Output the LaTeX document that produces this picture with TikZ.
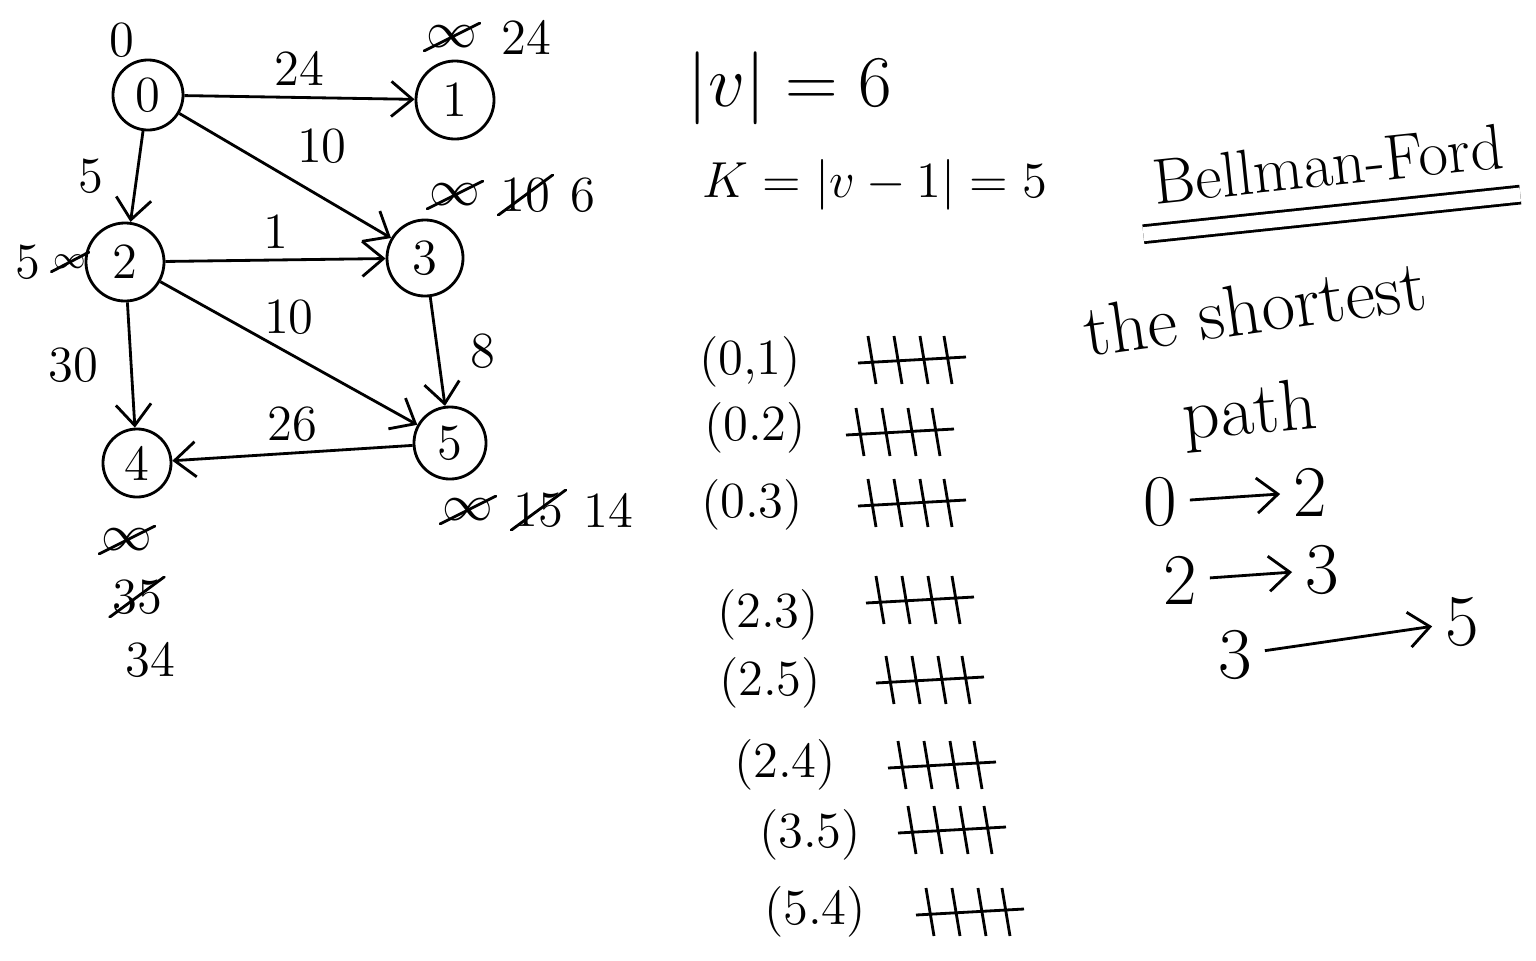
\documentclass[tikz,border=0pt]{standalone}
\usepackage{amsmath,amssymb}
\usepackage{tikz}
\usetikzlibrary{arrows.meta, positioning}

\begin{document}
\begin{tikzpicture}[
    x=0.01cm, y=-0.01cm, thick,
    vert/.style={
        circle, draw, minimum size=#1, inner sep=0pt, font=\Large
    },
    wlabel/.style={font=\Large, inner sep=3pt},
    dist/.style={font=\Large, inner sep=1pt},
    struck/.style={
        dist,
        path picture={\draw[thick] (path picture bounding box.south west) -- (path picture bounding box.north east);}
    },
    arr/.style={-{Straight Barb[length=6pt, width=10pt]}, thick},
    edgename/.style={font=\Large},
    tally/.pic={
        \draw (-42,-24) -- (-34,24);
        \draw (-16,-24) -- (-8,24);
        \draw (10,-24) -- (18,24);
        \draw (34,-24) -- (42,24);
        \draw (-52,3) -- (56,-3);
    }
]
\useasboundingbox (0,0) rectangle (1536,960);

% Vertices
\node[vert=0.70cm] (v0) at (148,95) {0};
\node[vert=0.78cm] (v1) at (455,100) {1};
\node[vert=0.78cm] (v2) at (125,262) {2};
\node[vert=0.76cm] (v3) at (425,258) {3};
\node[vert=0.68cm] (v4) at (137,463) {4};
\node[vert=0.72cm] (v5) at (450,443) {5};

% Weighted edges
\draw[arr] (v0) -- node[wlabel, above] {24} (v1);
\draw[arr] (v0) -- node[wlabel, left=6pt] {5} (v2);
\draw[arr] (v0) -- node[wlabel, above right] {10} (v3);
\draw[arr] (v2) -- node[wlabel, above] {1} (v3);
\draw[arr] (v2) -- node[wlabel, left=6pt] {30} (v4);
\draw[arr] (v2) -- node[wlabel, above=2pt] {10} (v5);
\draw[arr] (v3) -- node[wlabel, right=6pt] {8} (v5);
\draw[arr] (v5) -- node[wlabel, above] {26} (v4);

% Distance estimates
\node[dist, above=2pt of v0.north west] (d0) {0};
\node[struck] (d1a) at (452,37) {$\infty$};
\node[dist, right=4pt of d1a] (d1b) {24};
\node[dist] (d2a) at (28,262) {5};
\node[struck, font=\small, right=1pt of d2a] (d2b) {$\infty$};
\node[struck] (d3a) at (455,195) {$\infty$};
\node[struck, right=3pt of d3a] (d3b) {10};
\node[dist, right=3pt of d3b] (d3c) {6};
\node[struck] (d5a) at (468,510) {$\infty$};
\node[struck, right=3pt of d5a] (d5b) {15};
\node[dist, right=3pt of d5b] (d5c) {14};
\node[struck] (d4a) at (127,540) {$\infty$};
\node[struck] (d4b) at (137,597) {35};
\node[dist] (d4c) at (150,660) {34};

% Counts
\node[font=\huge] (vcount) at (790,88) {$|v| = 6$};
\node[font=\Large] (kcount) at (875,185) {$K = |v - 1| = 5$};

% Edge list with tallies
\node[edgename] (e01) at (750,362) {(0,1)};
\pic at (910,360) {tally};
\node[edgename] (e02) at (755,428) {(0.2)};
\pic at (898,432) {tally};
\node[edgename] (e03) at (752,505) {(0.3)};
\pic at (910,503) {tally};
\node[edgename] (e23) at (768,615) {(2.3)};
\pic at (918,600) {tally};
\node[edgename] (e25) at (770,683) {(2.5)};
\pic at (928,680) {tally};
\node[edgename] (e24) at (785,765) {(2.4)};
\pic at (940,765) {tally};
\node[edgename] (e35) at (810,835) {(3.5)};
\pic at (950,830) {tally};
\node[edgename] (e54) at (815,912) {(5.4)};
\pic at (968,912) {tally};

% Title
\node[font=\LARGE, scale=1.06, rotate=6] (title) at (1328,164) {Bellman-Ford};
\draw[double distance=4pt] ([yshift=-4pt]title.south west) -- ([yshift=-4pt]title.south east);

\node[font=\huge, inner sep=0pt, rotate=8] (shortest) at (1255,308) {the shortest};
\node[font=\huge, inner sep=0pt, rotate=5] (pathtxt) at (1250,416) {path};

% Shortest path
\node[font=\huge] (sp0) at (1160,502) {0};
\node[font=\huge] (sp2) at (1310,492) {2};
\draw[arr] (sp0) -- (sp2);
\node[font=\huge] (sp2b) at (1180,580) {2};
\node[font=\huge] (sp3) at (1322,570) {3};
\draw[arr] (sp2b) -- (sp3);
\node[font=\huge] (sp3b) at (1235,655) {3};
\node[font=\huge] (sp5) at (1462,622) {5};
\draw[arr] (sp3b) -- (sp5);

\end{tikzpicture}
\end{document}
